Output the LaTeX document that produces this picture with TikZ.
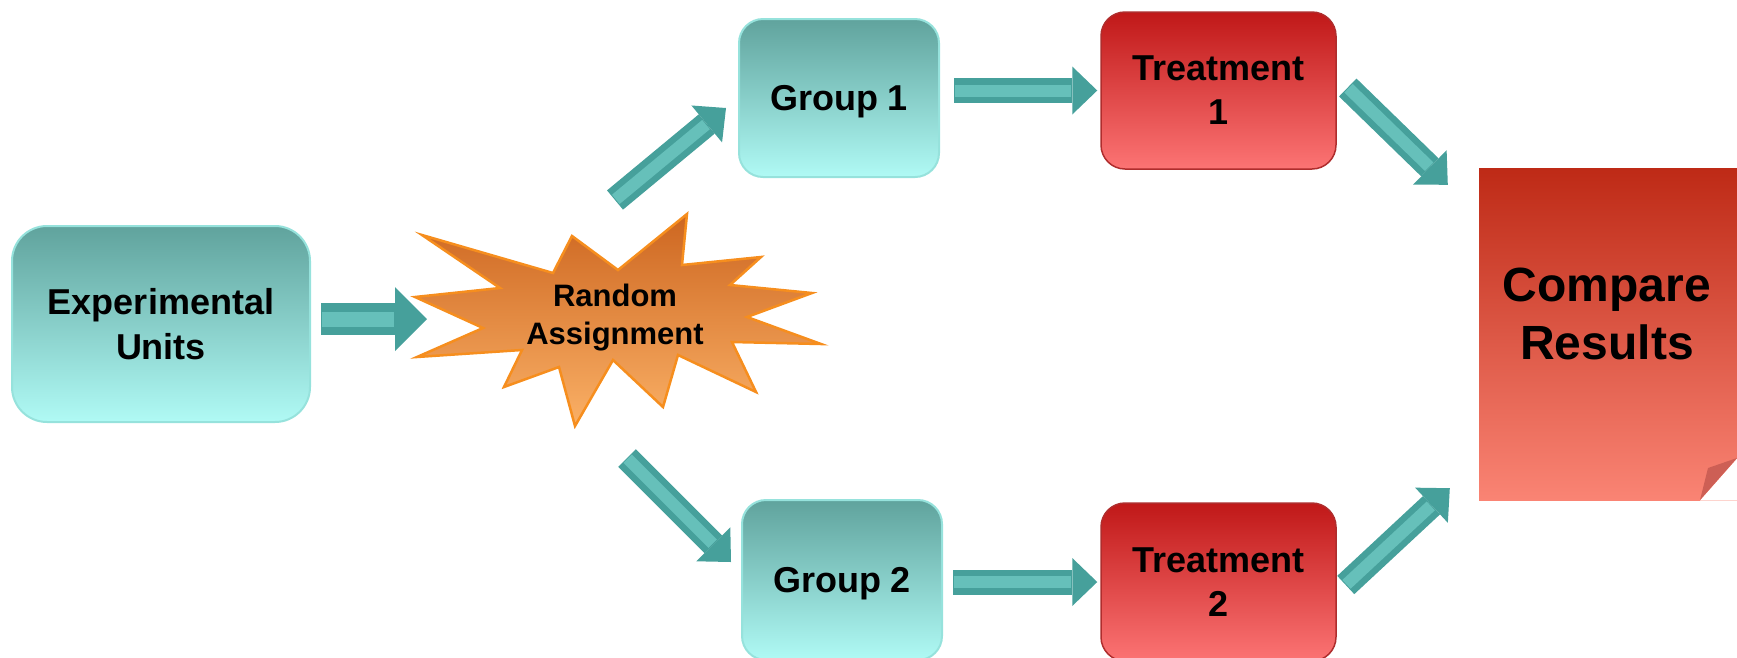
\documentclass[tikz,border=0pt]{standalone}
\usepackage{fontspec}
\setmainfont{Liberation Sans}
\usetikzlibrary{arrows.meta}

\definecolor{tealtop}{RGB}{96,163,157}
\definecolor{tealbot}{RGB}{176,250,245}
\definecolor{tealrim}{RGB}{150,226,220}
\definecolor{redtop}{RGB}{192,24,24}
\definecolor{redbot}{RGB}{252,116,116}
\definecolor{redrim}{RGB}{175,45,45}
\definecolor{pagetop}{RGB}{190,42,22}
\definecolor{pagebot}{RGB}{250,132,116}
\definecolor{pagefold}{RGB}{205,95,85}
\definecolor{bursttop}{RGB}{205,102,32}
\definecolor{burstbot}{RGB}{250,176,102}
\definecolor{burstrim}{RGB}{246,142,30}
\definecolor{arrteal}{RGB}{70,160,155}
\definecolor{arrhi}{RGB}{102,192,186}

\begin{document}
\begin{tikzpicture}[x=1pt,y=-1pt,
    grp/.style={top color=tealtop, bottom color=tealbot, draw=tealrim, line width=2pt,
        rounded corners=24pt, align=center, font=\fontsize{36}{45}\selectfont\bfseries},
    trt/.style={top color=redtop, bottom color=redbot, draw=redrim, line width=1.5pt,
        rounded corners=24pt, align=center, font=\fontsize{36}{44}\selectfont\bfseries},
    burst/.style={top color=bursttop, bottom color=burstbot, draw=burstrim, line width=2.5pt},
    arr/.style={line width=25pt, draw=arrteal, -{Triangle[length=25pt,width=48pt,line width=0pt]},
        postaction={draw=arrhi, line width=12pt, -, shorten >=26pt, shorten <=1pt}},
    bigarr/.style={line width=32pt, draw=arrteal, -{Triangle[length=32pt,width=64pt,line width=0pt]},
        postaction={draw=arrhi, line width=15pt, -, shorten >=33pt, shorten <=1pt}}
]
    \useasboundingbox (0,0) rectangle (1737,657);

    % boxes
    \node[grp, minimum width=298pt, minimum height=196pt, rounded corners=35pt] (eu) at (161,324) {Experimental\\Units};
    \node[grp, text depth=0pt, minimum width=200pt, minimum height=158pt] (g1) at (839,98) {Group 1};
    \node[grp, text depth=0pt, minimum width=200pt, minimum height=160pt] (g2) at (842,580) {Group 2};
    \node[trt, minimum width=235pt, minimum height=157pt] (t1) at (1218.5,90.5) {Treatment\\1};
    \node[trt, minimum width=235pt, minimum height=158pt] (t2) at (1218.5,582) {Treatment\\2};

    % result sheet with folded corner
    \node[top color=pagetop, bottom color=pagebot, minimum width=258pt, minimum height=332pt, inner sep=0pt] (cr) at (1608,334) {};
    \fill[white] (1700,500.5) -- (1737.5,458) -- (1737.5,500.5) -- cycle;
    \fill[pagefold] (1700,500) -- (1708,468) -- (1737,458) -- cycle;
    \node[font=\fontsize{48}{58}\selectfont\bfseries, align=center] (crtext) at (1607,314) {Compare\\Results};

    % starburst
    \draw[burst] (422,235) -- (553,273) -- (572,236) -- (618,270) -- (687,214) -- (682,265)
        -- (761,257) -- (730,285) -- (812,293) -- (747,317) -- (821,344) -- (732,342)
        -- (756,392) -- (678,355) -- (663,407) -- (613,360) -- (575,426) -- (559,367)
        -- (504,387) -- (522,350) -- (417,357) -- (483,328) -- (415,297) -- (500,288) -- cycle;
    \node[font=\fontsize{31}{38}\selectfont\bfseries, align=center] (ra) at (615,318) {Random\\Assignment};
    \coordinate (rw) at (427,319);

    % arrows
    \draw[bigarr] ([xshift=10pt]eu.east |- rw) -- (rw);
    \draw[arr] ([yshift=118pt]ra.center) -- ([xshift=-12pt,yshift=-10pt]g1.west);
    \draw[arr] ([xshift=12pt,yshift=-140pt]ra.center) -- ([xshift=-10pt,yshift=18pt]g2.west);
    \draw[arr] ([xshift=14pt]g1.east |- t1.west) -- ([xshift=-3pt]t1.west);
    \draw[arr] ([xshift=10pt]g2.east |- t2.west) -- ([xshift=-3pt]t2.west);
    \draw[arr] ([xshift=11pt,yshift=3pt]t1.east) -- ([xshift=-31pt,yshift=-17pt]cr.north west);
    \draw[arr] ([xshift=9pt,yshift=-3pt]t2.east) -- ([xshift=-29pt,yshift=12pt]cr.south west);
\end{tikzpicture}
\end{document}
